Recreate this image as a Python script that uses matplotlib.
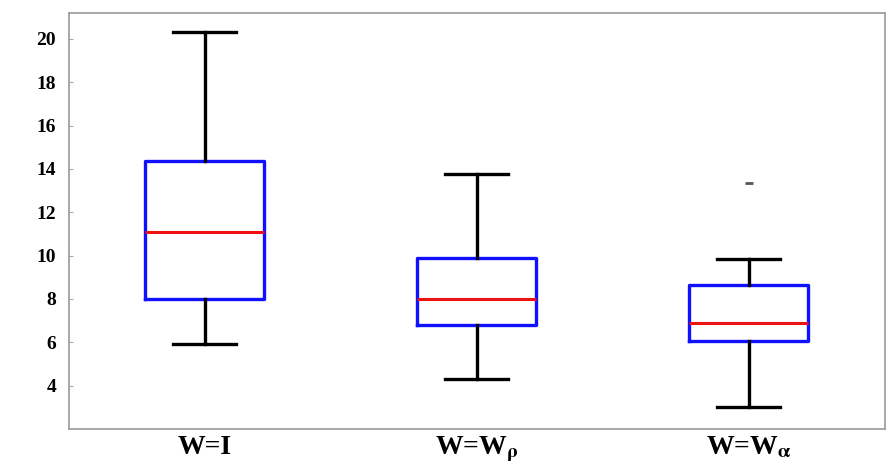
import matplotlib
matplotlib.use("Agg")
import matplotlib.pyplot as plt

plt.rcParams['font.family'] = ['Liberation Serif', 'DejaVu Serif']
plt.rcParams['mathtext.fontset'] = 'stix'

labels = ["W=I", r"W=W$_{\mathbf{\rho}}$", r"W=W$_{\mathbf{\alpha}}$"]
medians = [11.1, 8.0, 6.9]
q1 = [8.0, 6.8, 6.05]
q3 = [14.35, 9.9, 8.65]
whislo = [5.9, 4.3, 3.0]
whishi = [20.3, 13.75, 9.85]
outliers = [[], [], [13.35]]

stats = []
for i in range(len(labels)):
    stats.append(dict(label=labels[i], med=medians[i], q1=q1[i], q3=q3[i],
                      whislo=whislo[i], whishi=whishi[i], fliers=outliers[i]))

fig, ax = plt.subplots(figsize=(8.9, 4.73), dpi=100)
fig.subplots_adjust(left=0.077, right=0.994, top=0.973, bottom=0.093)

ax.bxp(stats, positions=[1, 2, 3], widths=0.44,
       boxprops=dict(color='#1010ff', linewidth=2.4),
       medianprops=dict(color='#ee1111', linewidth=2.2),
       whiskerprops=dict(color='black', linewidth=2.4),
       capprops=dict(color='black', linewidth=2.4),
       capwidths=0.23,
       flierprops=dict(marker='_', markersize=6, markeredgecolor='#555555',
                       markeredgewidth=2, linestyle='none'))

ax.set_xlim(0.5, 3.5)
ax.set_ylim(2.0, 21.2)
ax.set_yticks([4, 6, 8, 10, 12, 14, 16, 18, 20])
ax.tick_params(axis='y', direction='in', length=3, color='#aaaaaa', labelsize=14, pad=9)
ax.tick_params(axis='x', length=0, labelsize=20, pad=4)
for t in ax.get_yticklabels() + ax.get_xticklabels():
    t.set_fontweight('bold')
for s in ax.spines.values():
    s.set_color('#999999')
    s.set_linewidth(1.2)

fig.savefig("out.png", dpi=100)
